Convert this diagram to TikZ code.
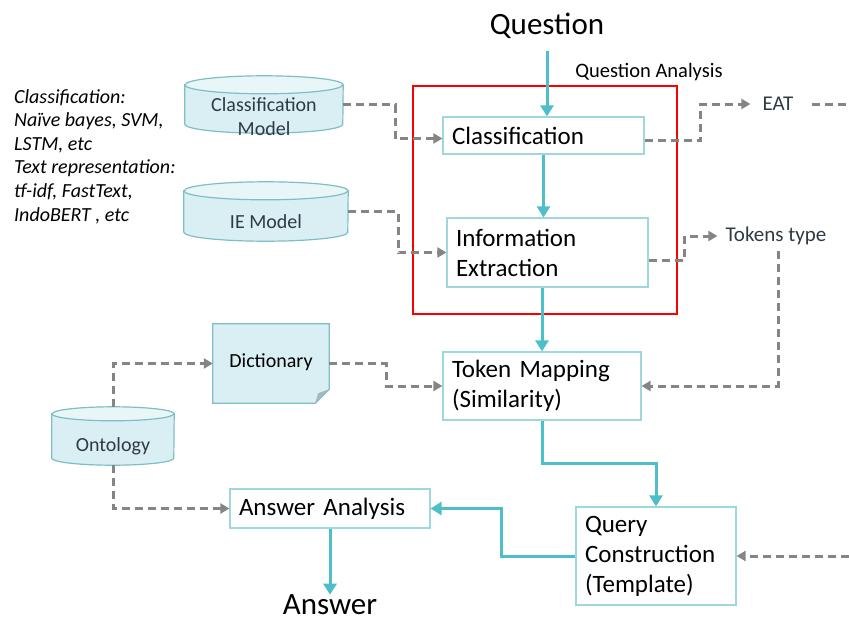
\documentclass[tikz,border=0pt]{standalone}
\usepackage{fontspec}
\setmainfont{Carlito}
\usetikzlibrary{arrows.meta,backgrounds,calc}
\definecolor{teal1}{HTML}{4CBFCB}
\definecolor{boxline}{HTML}{9ED8DE}
\definecolor{cylfillc}{HTML}{DAEFF3}
\definecolor{cyltop}{HTML}{E8F6F8}
\definecolor{cyllinec}{HTML}{7FBEC5}
\definecolor{foldc}{HTML}{A3B9BD}
\definecolor{dashc}{HTML}{858585}
\definecolor{labc}{HTML}{2E3A44}
\newcommand{\cyltext}[2]{\raisebox{#1}[0pt][0pt]{\begin{tabular}{@{}c@{}}#2\end{tabular}}}
\newcommand{\cylbg}[3]{%
  \fill[cylfillc] (#1.north west) -- (#1.south west)
    arc[start angle=180,end angle=360,x radius=#2,y radius=#3]
    -- (#1.north east) arc[start angle=0,end angle=180,x radius=#2,y radius=#3] -- cycle;
  \fill[cyltop] (#1.north) ellipse[x radius=#2,y radius=#3];
  \draw[cyllinec,line width=1.2pt] (#1.north west) -- (#1.south west)
    arc[start angle=180,end angle=360,x radius=#2,y radius=#3]
    -- (#1.north east) arc[start angle=0,end angle=180,x radius=#2,y radius=#3] -- cycle;
  \draw[cyllinec,line width=1.2pt] (#1.north west)
    arc[start angle=180,end angle=360,x radius=#2,y radius=#3];
}
\tikzset{
  box/.style n args={3}{draw=boxline, line width=1.2pt, fill=white, inner xsep=9pt, inner ysep=0pt,
    minimum width=#1pt, minimum height=#2pt, text width=#3pt, align=left,
    font=\fontsize{25}{30}\selectfont},
  cylnode/.style n args={2}{inner sep=0pt, minimum width=#1pt, minimum height=#2pt,
    text=labc, font=\fontsize{20}{24}\selectfont},
  tarrow/.style={teal1, line width=3pt, -{Triangle[length=11pt,width=13pt]}},
  tline/.style={teal1, line width=3pt},
  garrow/.style={dashc, line width=3pt, dash pattern=on 8pt off 5pt, -{Triangle[length=9pt,width=10pt]}},
  gline/.style={dashc, line width=3pt, dash pattern=on 8pt off 5pt},
  lab/.style={text=labc, font=\fontsize{21}{25}\selectfont, inner sep=2pt},
  big/.style={font=\fontsize{31}{36}\selectfont, inner sep=2pt}
}
\begin{document}
\begin{tikzpicture}[x=1pt,y=1pt]
\useasboundingbox (0,0) rectangle (849,-621);

% titles
\node[big] (q) at (547,-26) {Question};
\node[big] (ans) at (330,-605) {Answer};
\node[font=\fontsize{20.5}{24}\selectfont, inner sep=2pt] (qalab) at (649,-72) {Question Analysis};

% notes
\node[anchor=north west, align=left, inner sep=0pt, font=\itshape\fontsize{20}{23.6}\selectfont] (notes) at (14,-89)
 {Classification:\\Naïve bayes, SVM,\\LSTM, etc\\Text representation:\\tf-idf, FastText,\\IndoBERT , etc};

% red frame
\node[draw=red, line width=2pt, minimum width=264pt, minimum height=228pt, inner sep=0pt] (qa) at (545,-200) {};

% process boxes
\node[box={201}{37}{183}] (cls) at (543.5,-135.5) {Classification};
\node[box={201}{69}{183}] (ie) at (547.5,-252.5) {Information\\Extraction};
\node[box={198}{68}{180}] (tm) at (542,-386) {Token Mapping\\(Similarity)};
\node[box={160}{98}{142}] (qc) at (656,-556) {Query\\Construction\\(Template)};
\node[box={200}{39}{182}] (aa) at (330,-508.5) {Answer Analysis};

% stores
\node[cylnode={158}{39}] (cm) at (264,-104.5) {\cyltext{-19pt}{Classification\\Model}};
\node[cylnode={164}{41}] (iem) at (266,-211.5) {\cyltext{-17pt}{IE Model}};
\node[cylnode={122}{44}] (ont) at (113,-436) {\cyltext{-16pt}{Ontology}};
\node[cylnode={116}{79}, text=black] (dict) at (271,-363.5) {\raisebox{6pt}{Dictionary}};

% outputs
\node[lab] (eat) at (778,-104) {EAT};
\node[lab] (tok) at (776,-236) {Tokens type};
\coordinate (eatout) at (849,-104);
\coordinate (qcin) at (849,-556);

\begin{scope}[on background layer]
  \cylbg{cm}{79pt}{9pt}
  \cylbg{iem}{82pt}{9pt}
  \cylbg{ont}{61pt}{7pt}
  \fill[cylfillc] (dict.north west) -- (dict.north east) -- ([yshift=14pt]dict.south east)
     -- ([xshift=-14pt]dict.south east) -- (dict.south west) -- cycle;
  \draw[cyllinec, line width=1.2pt] (dict.north west) -- (dict.north east) -- ([yshift=14pt]dict.south east)
     -- ([xshift=-14pt]dict.south east) -- (dict.south west) -- cycle;
  \fill[foldc] ([yshift=14pt]dict.south east) -- ([xshift=-14pt]dict.south east)
     -- ([xshift=-11pt,yshift=10pt]dict.south east) -- cycle;
\end{scope}

% teal flow
\draw[tarrow] ([yshift=-10pt]q.south) -- (q.south |- cls.north);
\draw[tarrow] (cls.south) -- (cls.south |- ie.north);
\draw[tarrow] (tm.north |- ie.south) -- (tm.north);
\draw[tarrow] (tm.south) -- ++(0,-43) -| (qc.north);
\draw[tarrow] (qc.west) -- ++(-74,0) |- (aa.east);
\draw[tarrow] (aa.south) -- ([yshift=-2pt]ans.north);

% gray dashed
\draw[garrow] (cm.east) -- ++(52,0) |- ([yshift=-3pt]cls.west);
\draw[garrow] (iem.east) -- ++(50,0) |- (ie.west);
\draw[garrow] ([yshift=-5pt]cls.east) -- ++(56,0) |- ([xshift=-10pt]eat.west);
\draw[gline] ([xshift=16pt]eat.east) -- (eatout);
\draw[garrow] ([yshift=-7.5pt]ie.east) -- ++(36,0) |- ([xshift=-6pt]tok.west);
\draw[garrow] ([xshift=2pt,yshift=-4pt]tok.south) |- (tm.east);
\draw[garrow] (qcin) -- (qc.east);
\draw[garrow] (dict.east) -- ++(57,0) |- (tm.west);
\draw[garrow] ([yshift=7pt]ont.north) |- (dict.west);
\draw[garrow] ([yshift=-7pt]ont.south) |- (aa.west);
\end{tikzpicture}
\end{document}
